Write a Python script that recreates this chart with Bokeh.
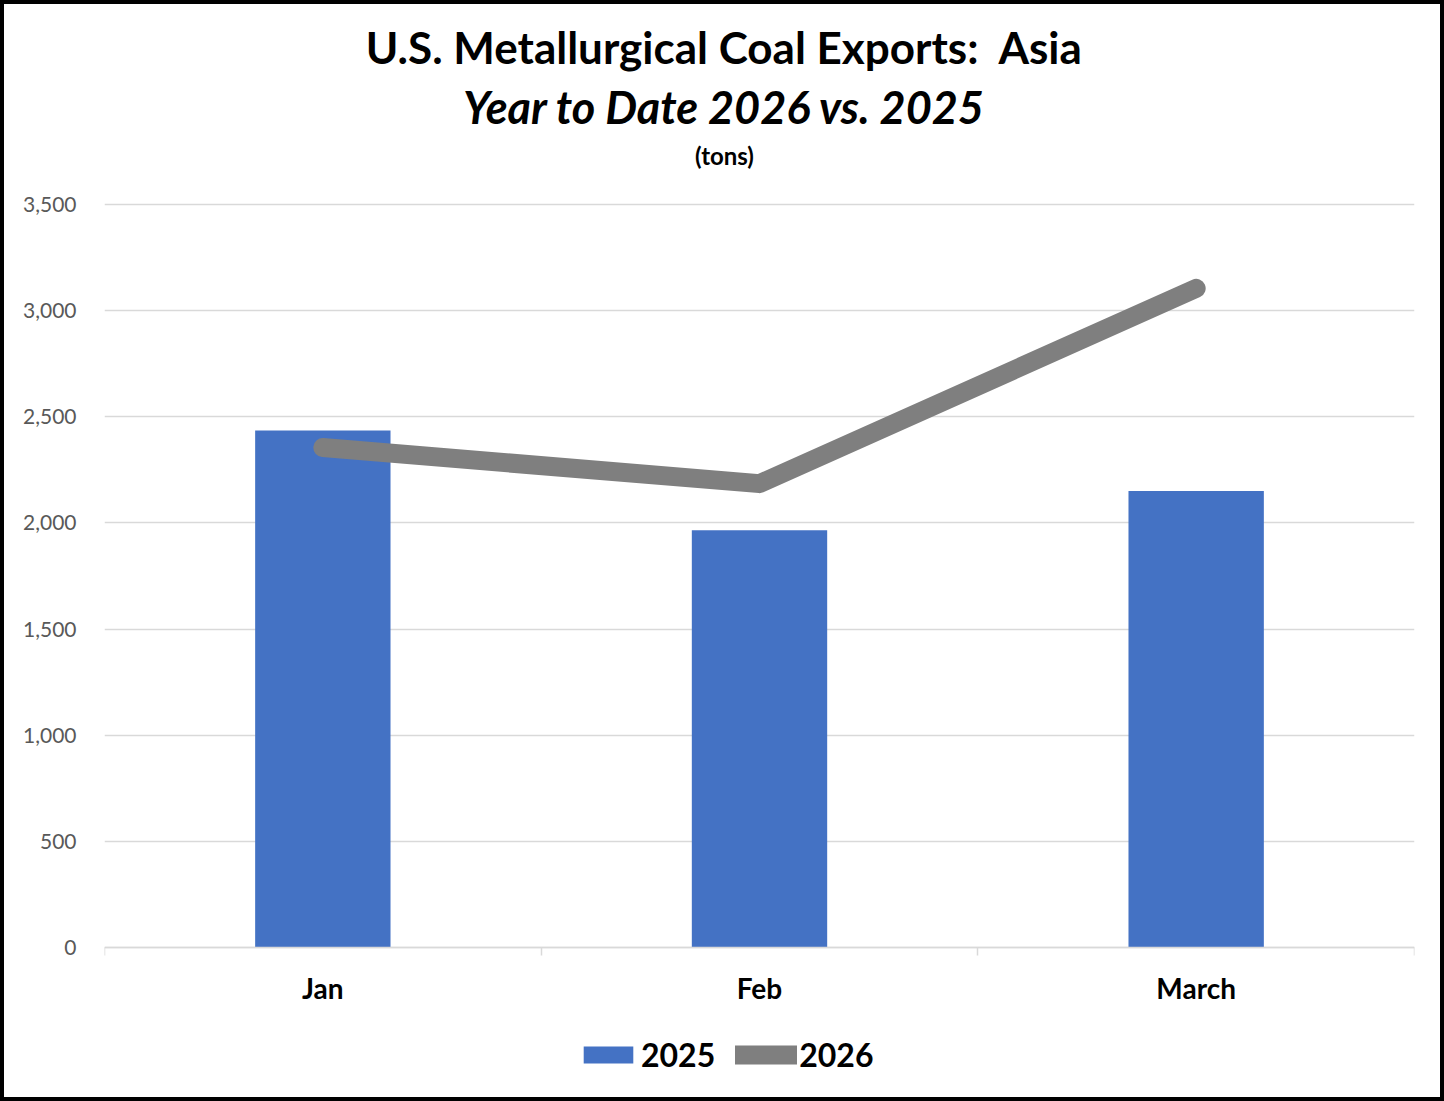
from bokeh.plotting import figure
from bokeh.models import (Range1d, FixedTicker, NumeralTickFormatter, Label,
                          Legend, LegendItem, ColumnDataSource)
from bokeh.embed import file_html
from bokeh.resources import INLINE

# ---- data ----
months = ["Jan", "Feb", "March"]
exports_2025 = [2435, 1965, 2150]
exports_2026 = [2355, 2185, 3105]
y_ticks = [0, 500, 1000, 1500, 2000, 2500, 3000, 3500]
series_names = ["2025", "2026"]
title_line1 = "U.S. Metallurgical Coal Exports:  Asia"
title_line2 = "Year to Date 2026 vs. 2025"
title_line3 = "(tons)"

# ---- layout constants (canvas px) ----
W, H = 1444, 1101
ML, MR = 100, 34
PLOT_TOP_PX, PLOT_BOTTOM_PX = 200, 943   # where the top / bottom tick sit on the canvas
FONT = "Lato"

# the frame spans the full canvas height so titles and legend are inside it
ppu = (PLOT_BOTTOM_PX - PLOT_TOP_PX) / (y_ticks[-1] - y_ticks[0])
y_start = y_ticks[0] - (H - PLOT_BOTTOM_PX) / ppu
y_end = y_ticks[-1] + PLOT_TOP_PX / ppu

positions = [i + 0.5 for i in range(len(months))]
boundaries = list(range(len(months) + 1))

p = figure(width=W, height=H, output_backend="svg", toolbar_location=None,
           x_range=Range1d(0, len(months)), y_range=Range1d(y_start, y_end),
           min_border_left=ML, min_border_right=MR, min_border_top=0, min_border_bottom=0)
p.styles = {"border": "4px solid black"}
p.outline_line_color = None
p.background_fill_color = "white"
p.border_fill_color = "white"

src = ColumnDataSource(dict(x=positions, month=months, v25=exports_2025, v26=exports_2026))
bars = p.vbar(x="x", top="v25", width=0.31, source=src, fill_color="#4472C4", line_color=None)
line = p.line(x="x", y="v26", source=src, line_width=19, line_color="#7f7f7f",
              line_cap="round", line_join="round")

# grid
p.xgrid.visible = False
p.ygrid.ticker = FixedTicker(ticks=y_ticks)
p.ygrid.grid_line_color = "#d9d9d9"
p.ygrid.grid_line_width = 1.5

# y axis
p.yaxis.ticker = FixedTicker(ticks=y_ticks)
p.yaxis.formatter = NumeralTickFormatter(format="0,0")
p.yaxis.axis_line_color = None
p.yaxis.major_tick_line_color = None
p.yaxis.minor_tick_line_color = None
p.yaxis.major_tick_out = 0
p.yaxis.major_tick_in = 0
p.yaxis.major_label_standoff = 28
p.yaxis.major_label_text_font = FONT
p.yaxis.major_label_text_font_size = "21px"
p.yaxis.major_label_text_color = "#595959"

# x axis, pinned at y = 0
p.xaxis.fixed_location = y_ticks[0]
p.xaxis.ticker = FixedTicker(ticks=positions, minor_ticks=boundaries)
p.xaxis.major_label_overrides = {pos: m for pos, m in zip(positions, months)}
p.xaxis.axis_line_color = "#d9d9d9"
p.xaxis.axis_line_width = 1.5
p.xaxis.major_tick_line_color = None
p.xaxis.major_tick_out = 0
p.xaxis.major_tick_in = 0
p.xaxis.minor_tick_line_color = "#d9d9d9"
p.xaxis.minor_tick_line_width = 1.5
p.xaxis.minor_tick_out = 8
p.xaxis.minor_tick_in = 0
p.xaxis.major_label_standoff = 15
p.xaxis.major_label_text_font = FONT
p.xaxis.major_label_text_font_style = "bold"
p.xaxis.major_label_text_font_size = "28px"
p.xaxis.major_label_text_color = "black"

# legend (offset from the frame's bottom-left corner)
legend = Legend(items=[LegendItem(label=series_names[0], renderers=[bars]),
                       LegendItem(label=series_names[1], renderers=[line])],
                orientation="horizontal", location=(473, H - 1070),
                label_text_font=FONT, label_text_font_style="bold",
                label_text_font_size="32px", label_text_color="black",
                glyph_width=62, glyph_height=21, label_standoff=2, spacing=20,
                border_line_color=None, background_fill_alpha=0, padding=0, margin=0)
p.add_layout(legend, "center")

# titles (screen units: x from frame left, y up from frame bottom)
def tx(cx):
    return cx - ML
def ty(cy):
    return H - cy

for text, style, size, cy in [(title_line1.replace("  ", "\u00a0 "), "bold", "44px", 42),
                              (title_line2, "bold italic", "45px", 102),
                              (title_line3, "bold", "24px", 151)]:
    p.add_layout(Label(x=tx(720), y=ty(cy), x_units="screen", y_units="screen",
                       text=text, text_align="center", text_baseline="alphabetic",
                       text_font=FONT, text_font_style=style, text_font_size=size,
                       text_color="black"))

open("out.html", "w").write(file_html(p, INLINE))
